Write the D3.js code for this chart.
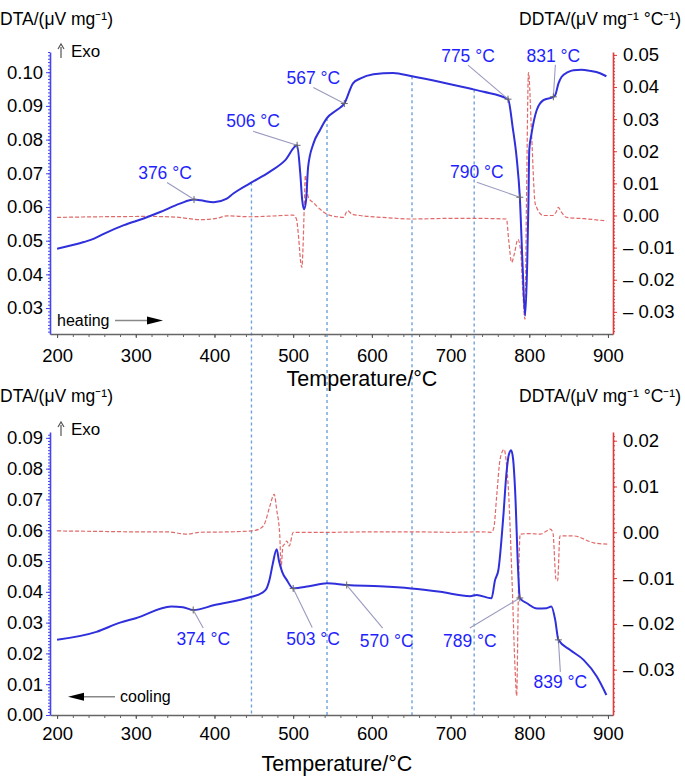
<!DOCTYPE html>
<html><head><meta charset="utf-8">
<script src="https://cdn.jsdelivr.net/npm/d3@7"></script>
<style>body{margin:0;background:#fff;} svg{display:block;font-family:"Liberation Sans",Arial,Helvetica,sans-serif;}</style>
</head><body><svg id="c" width="685" height="776"></svg>
<script>
// ---------------- DATA ----------------
const xTicks = [200, 300, 400, 500, 600, 700, 800, 900];
const heatLeftTicks = [0.03, 0.04, 0.05, 0.06, 0.07, 0.08, 0.09, 0.10];
const heatRightTicks = [-0.03, -0.02, -0.01, 0.00, 0.01, 0.02, 0.03, 0.04, 0.05];
const coolLeftTicks = [0.00, 0.01, 0.02, 0.03, 0.04, 0.05, 0.06, 0.07, 0.08, 0.09];
const coolRightTicks = [-0.03, -0.02, -0.01, 0.00, 0.01, 0.02];

// heating DTA
const heatDtaT = [200,234,247,260,285,310,331,356,374,382,399,415,424,445,470,490,505,509,511.5,513.8,516.4,519,525.7,534,542.6,555,565,576,585,602,627,651,687,729,742,773,779,784,788,791.6,794.7,797.5,799,800,803,809.4,818,830.6,833,837,841,849,856,866,877,890,898];
const heatDtaV = [0.0476,0.0496,0.0506,0.0521,0.0546,0.0566,0.0585,0.0610,0.0622,0.0620,0.0614,0.0624,0.0640,0.0670,0.0704,0.0739,0.0783,0.0700,0.0620,0.0593,0.0620,0.0719,0.0788,0.0828,0.0863,0.0887,0.0907,0.0967,0.0981,0.0994,0.0998,0.0988,0.0971,0.0949,0.0942,0.0920,0.0835,0.0745,0.0629,0.0422,0.0277,0.0442,0.0620,0.0769,0.0819,0.0887,0.0917,0.0927,0.0932,0.0966,0.0986,0.1000,0.1006,0.1007,0.1004,0.0997,0.0988];
// heating DDTA
const heatDdtaT = [200,255,318,350,382,403,416,445,470,500,504,507,509.5,511,512.5,514,515.5,517,519.5,525.7,534,543,556,564,569,575,585,620,651,700,729,771,774,777.6,781,785.6,789,791.5,794.5,796.5,799,803,807.3,809.4,817.8,830,834,837,841,847.5,870,898];
const heatDdtaV = [-0.0006,-0.0004,-0.0003,-0.0005,-0.0013,-0.0009,-0.0001,-0.0004,-0.0002,0.0001,-0.0010,-0.0070,-0.0145,-0.0162,-0.0100,0.0020,0.0125,0.0090,0.0055,0.0040,0.0020,0.0004,-0.0004,-0.0006,0.0015,0.0004,0.0000,-0.0007,-0.0011,-0.0009,-0.0009,-0.0011,-0.0080,-0.0146,-0.0120,-0.0074,-0.0110,-0.0220,-0.0323,0.0050,0.0445,0.0250,0.0040,0.0025,0.0000,0.0000,0.0010,0.0025,0.0010,-0.0006,-0.0010,-0.0017];
// cooling DTA
const coolDtaT = [200,250,280,300,345,360,373,400,447,460,466,470,474,479,482,486,492,500,520,543,568,610,650,687,725,733,752,756.5,760.7,767,771,774,777,779.5,782,786,788,797,810,822,828,833,837,852,869,886,898];
const coolDtaV = [0.0244,0.0270,0.0300,0.0314,0.0352,0.0350,0.0341,0.0357,0.0384,0.0396,0.0410,0.0440,0.0490,0.0538,0.0500,0.0465,0.0438,0.0411,0.0418,0.0428,0.0422,0.0418,0.0411,0.0400,0.0386,0.0390,0.0379,0.0438,0.0470,0.0644,0.0785,0.0845,0.0860,0.0830,0.0730,0.0460,0.0380,0.0363,0.0346,0.0347,0.0352,0.0308,0.0244,0.0211,0.0179,0.0124,0.0065];
// cooling DDTA
const coolDdtaT = [200,250,300,340,365,382,420,447,458,464,470,476,479,483,484.6,487,489,492,495,500,550,600,650,700,740,752,755,758.6,763,768,771,773.5,778,782,784,786,788.4,800,814,822,826.4,830,834,836,839,856,882,899];
const coolDdtaV = [0.0003,0.0002,0.0001,0.0001,-0.0004,0.0000,0.0001,0.0003,0.0008,0.0020,0.0055,0.0083,0.0050,-0.0008,-0.0077,-0.0030,-0.0026,-0.0019,-0.0030,0.0000,0.0000,0.0001,0.0001,0.0000,0.0001,0.0000,0.0010,0.0079,0.0160,0.0181,0.0150,0.0094,-0.0100,-0.0300,-0.0357,-0.0150,-0.0004,-0.0003,-0.0004,0.0003,0.0007,0.0000,-0.0103,-0.0106,-0.0008,-0.0008,-0.0023,-0.0026];

// reference temperatures (vertical dashed lines)
const refTemps = [447, 543, 651, 730];

// annotations
const heatLabels = ["376 °C", "506 °C", "567 °C", "775 °C", "831 °C", "790 °C"];
const heatLabelT = [374, 505, 565, 773, 830.6, 788];
const heatLabelV = [0.0622, 0.0783, 0.0907, 0.0920, 0.0927, 0.0629];
const coolLabels = ["374 °C", "503 °C", "570 °C", "789 °C", "839 °C"];
const coolLabelT = [373, 500, 568, 788, 837];
const coolLabelV = [0.0341, 0.0411, 0.0422, 0.0380, 0.0244];

// ---------------- LAYOUT ----------------
const heatOffsets = [[-29,-21],[-44,-18],[-31,-20],[-40,-37],[0,-35],[-43,-19]];
const heatLeader = [[2,4],[0,4],[0,4],[0,3],[2,3],[0,4]];
const coolOffsets = [[10,35],[20,57],[40,62],[-50,49],[2,48]];
const coolLeader = [[0,-17],[-1,-18],[-4,-19],[0,-19],[0,-16]];

const BLUE = "#2f2fdc", RED = "#dc4f4f", LBL = "#1f1fff";
const svg = d3.select("#c");
const x = d3.scaleLinear().domain([191, 906.4]).range([50, 613]);

const zip = (a, b) => a.map((t, i) => [t, b[i]]);
const fmtL = d3.format(".2f");
const fmtR = v => (v < -1e-9 ? "\u2013 " + fmtL(-v) : fmtL(Math.abs(v)));
function minor(d, step) {
  const out = [];
  for (let i = Math.ceil(d[0] / step - 1e-6); i <= Math.floor(d[1] / step + 1e-6); i++) out.push(+(i * step).toFixed(5));
  return out;
}

// vertical reference lines (behind everything) group
const refG = svg.append("g");

function panel(cfg) {
  const yL = d3.scaleLinear().domain(cfg.leftDomain).range([cfg.bottom, cfg.top]);
  const yR = d3.scaleLinear().domain(cfg.rightDomain).range([cfg.bottom, cfg.top]);
  const g = svg.append("g");

  // x axis
  const gxm = g.append("g").attr("transform", `translate(0,${cfg.bottom})`)
    .call(d3.axisBottom(x).tickValues(d3.range(200, 901, 20)).tickSize(3).tickSizeOuter(0).tickFormat(""));
  gxm.select(".domain").attr("stroke", "#666").attr("stroke-width", 1.3);
  gxm.selectAll(".tick line").attr("stroke", "#666");
  const gx = g.append("g").attr("transform", `translate(0,${cfg.bottom})`)
    .call(d3.axisBottom(x).tickValues(xTicks).tickSize(4).tickSizeOuter(0).tickPadding(cfg.xPad).tickFormat(d3.format("d")));
  gx.select(".domain").remove();
  gx.selectAll(".tick line").attr("stroke", "#555");
  gx.selectAll("text").attr("font-size", "18.5px").attr("fill", "#000").attr("font-family", "Liberation Sans, Arial, sans-serif");

  // left axis
  const gym = g.append("g").attr("transform", "translate(50,0)")
    .call(d3.axisLeft(yL).tickValues(minor(cfg.leftDomain, 0.001)).tickSize(2).tickSizeOuter(0).tickFormat(""));
  gym.select(".domain").attr("stroke", "#4545ee").attr("stroke-width", 1.6);
  gym.selectAll(".tick line").attr("stroke", "#4545ee");
  const gy = g.append("g").attr("transform", "translate(50,0)")
    .call(d3.axisLeft(yL).tickValues(cfg.leftTicks).tickSize(4).tickSizeOuter(0).tickPadding(3).tickFormat(fmtL));
  gy.select(".domain").remove();
  gy.selectAll(".tick line").attr("stroke", "#4545ee");
  gy.selectAll("text").attr("font-size", "18.5px").attr("fill", "#000").attr("font-family", "Liberation Sans, Arial, sans-serif");

  // right axis
  const grm = g.append("g").attr("transform", "translate(613,0)")
    .call(d3.axisRight(yR).tickValues(minor(cfg.rightDomain, 0.001)).tickSize(2).tickSizeOuter(0).tickFormat(""));
  grm.select(".domain").attr("stroke", "#e23a3a").attr("stroke-width", 1.6);
  grm.selectAll(".tick line").attr("stroke", "#e23a3a");
  const gr = g.append("g").attr("transform", "translate(613,0)")
    .call(d3.axisRight(yR).tickValues(cfg.rightTicks).tickSize(4).tickSizeOuter(0).tickPadding(6).tickFormat(fmtR));
  gr.select(".domain").remove();
  gr.selectAll(".tick line").attr("stroke", "#e23a3a");
  gr.selectAll("text").attr("font-size", "18.5px").attr("fill", "#000").attr("font-family", "Liberation Sans, Arial, sans-serif");

  // titles
  g.append("text").attr("x", 0).attr("y", cfg.titleY).attr("font-size", "17.5px").text("DTA/(\u03BCV mg\u207B\u00B9)");
  g.append("text").attr("x", 681).attr("y", cfg.titleY).attr("text-anchor", "end").attr("font-size", "17.5px").text("DDTA/(\u03BCV mg\u207B\u00B9 \u00B0C\u207B\u00B9)");
  // exo arrow
  const ay = cfg.exoY;
  g.append("line").attr("x1", 61).attr("x2", 61).attr("y1", ay - 10).attr("y2", ay + 1).attr("stroke", "#555").attr("stroke-width", 1.2);
  g.append("path").attr("d", `M58,${ay - 8}L61,${ay - 13}L64,${ay - 8}`).attr("fill", "none").attr("stroke", "#555").attr("stroke-width", 1.2);
  g.append("text").attr("x", 71).attr("y", cfg.exoY).attr("font-size", "17px").text("Exo");
  g.append("text").attr("x", cfg.xTitleX).attr("y", cfg.xTitleY).attr("text-anchor", "middle").attr("font-size", "21.5px").text("Temperature/\u00B0C");

  // DDTA dashed
  g.append("path").datum(cfg.ddta).attr("fill", "none").attr("stroke", RED).attr("stroke-width", 1.2)
    .attr("stroke-dasharray", "4,2").attr("opacity", 0.85)
    .attr("d", d3.line().x(d => x(d[0])).y(d => yR(d[1])).curve(d3.curveMonotoneX));
  // DTA solid
  g.append("path").datum(cfg.dta).attr("fill", "none").attr("stroke", BLUE).attr("stroke-width", 2)
    .attr("stroke-linejoin", "round")
    .attr("d", d3.line().x(d => x(d[0])).y(d => yL(d[1])).curve(d3.curveMonotoneX));

  // annotations
  cfg.labels.forEach((lab, i) => {
    const px = x(cfg.labelT[i]), py = yL(cfg.labelV[i]);
    const lx = px + cfg.offsets[i][0], ly = py + cfg.offsets[i][1];
    const ex = lx + cfg.leader[i][0], ey = ly + cfg.leader[i][1];
    g.append("line").attr("x1", ex).attr("y1", ey).attr("x2", px).attr("y2", py)
      .attr("stroke", "#9a9ac0").attr("stroke-width", 1.1);
    g.append("path").attr("d", `M${px-3.5},${py}H${px+3.5}M${px},${py-3.5}V${py+3.5}`)
      .attr("stroke", "#666").attr("stroke-width", 1);
    g.append("text").attr("x", lx).attr("y", ly).attr("text-anchor", "middle")
      .attr("font-size", "17.5px").attr("fill", LBL).text(lab);
  });
  return { yL, yR };
}

const panelHeat = panel({
  top: 52, bottom: 334, leftDomain: [0.0223, 0.106], rightDomain: [-0.0369, 0.0509],
  leftTicks: heatLeftTicks, rightTicks: heatRightTicks, xPad: 11,
  titleY: 25, exoY: 57, xTitleX: 362, xTitleY: 386,
  dta: zip(heatDtaT, heatDtaV), ddta: zip(heatDdtaT, heatDdtaV),
  labels: heatLabels, labelT: heatLabelT, labelV: heatLabelV, offsets: heatOffsets, leader: heatLeader
});
const panelCool = panel({
  top: 432, bottom: 715, leftDomain: [0.0, 0.0919], rightDomain: [-0.0399, 0.0219],
  leftTicks: coolLeftTicks, rightTicks: coolRightTicks, xPad: 8,
  titleY: 402, exoY: 435, xTitleX: 337, xTitleY: 771,
  dta: zip(coolDtaT, coolDtaV), ddta: zip(coolDdtaT, coolDdtaV),
  labels: coolLabels, labelT: coolLabelT, labelV: coolLabelV, offsets: coolOffsets, leader: coolLeader
});

// vertical dashed reference lines from heating curve down to cooling axis
const interp = (T) => {
  for (let i = 0; i < heatDtaT.length - 1; i++) {
    if (T >= heatDtaT[i] && T <= heatDtaT[i + 1]) {
      const f = (T - heatDtaT[i]) / (heatDtaT[i + 1] - heatDtaT[i]);
      return heatDtaV[i] + f * (heatDtaV[i + 1] - heatDtaV[i]);
    }
  }
  return heatDtaV[0];
};
refG.selectAll("line").data(refTemps).join("line")
  .attr("x1", d => x(d)).attr("x2", d => x(d))
  .attr("y1", d => panelHeat.yL(interp(d))).attr("y2", 715)
  .attr("stroke", "#6fa3da").attr("stroke-width", 1.4).attr("stroke-dasharray", "3,3");

// heating / cooling arrows
const ann = svg.append("g");
ann.append("text").attr("x", 57).attr("y", 326).attr("font-size", "16px").text("heating");
ann.append("line").attr("x1", 115).attr("x2", 148).attr("y1", 320.5).attr("y2", 320.5).attr("stroke", "#888").attr("stroke-width", 1.5);
ann.append("path").attr("d", "M147,316.5L163,320.5L147,324.5Z").attr("fill", "#000");
ann.append("text").attr("x", 120).attr("y", 702).attr("font-size", "16px").text("cooling");
ann.append("line").attr("x1", 115).attr("x2", 82).attr("y1", 696.7).attr("y2", 696.7).attr("stroke", "#888").attr("stroke-width", 1.5);
ann.append("path").attr("d", "M84,692.7L68,696.7L84,700.7Z").attr("fill", "#000");
</script></body></html>
